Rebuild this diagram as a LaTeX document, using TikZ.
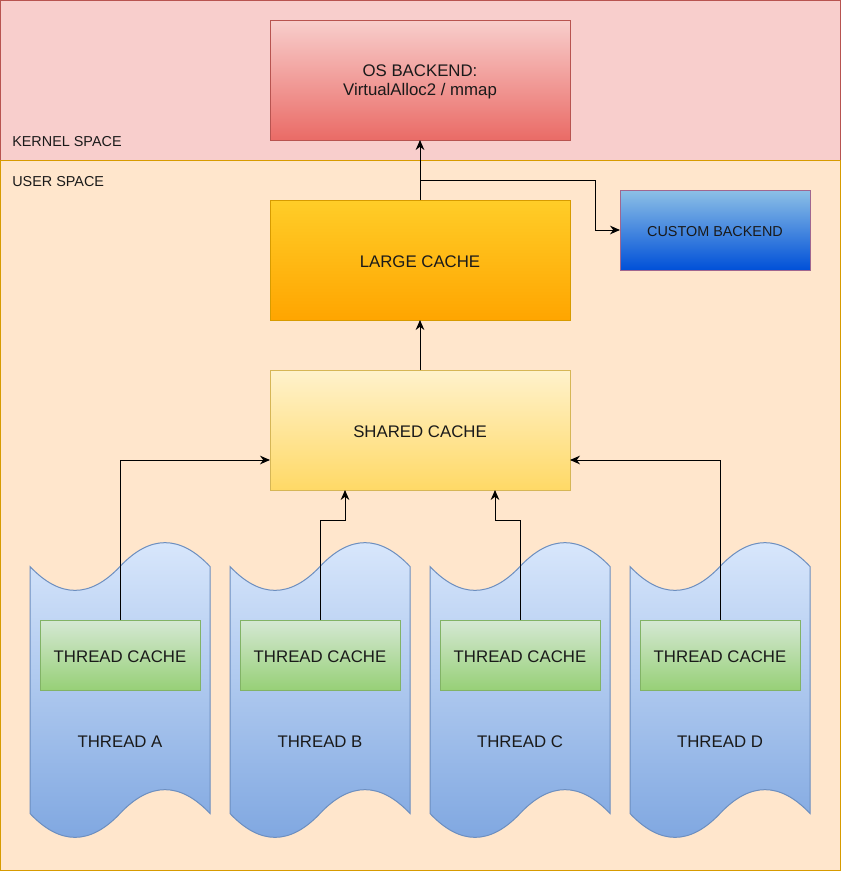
\documentclass[tikz,border=0pt]{standalone}
\usepackage{fontspec}
\setmainfont{Liberation Sans}
\usetikzlibrary{arrows.meta}
\definecolor{kfill}{HTML}{F8CECC}
\definecolor{kline}{HTML}{B85450}
\definecolor{ufill}{HTML}{FFE6CC}
\definecolor{uline}{HTML}{D79B00}
\definecolor{osbot}{HTML}{EA6B66}
\definecolor{lgtop}{HTML}{FFCD28}
\definecolor{lgbot}{HTML}{FFA500}
\definecolor{shtop}{HTML}{FFF2CC}
\definecolor{shbot}{HTML}{FFD966}
\definecolor{shline}{HTML}{D6B656}
\definecolor{cutop}{HTML}{8DC0E6}
\definecolor{cubot}{HTML}{0050D8}
\definecolor{culine}{HTML}{A0668F}
\definecolor{tptop}{HTML}{DAE8FC}
\definecolor{tpbot}{HTML}{7EA6E0}
\definecolor{tpline}{HTML}{6C8EBF}
\definecolor{tctop}{HTML}{D5E8D4}
\definecolor{tcbot}{HTML}{97D077}
\definecolor{tcline}{HTML}{82B366}
\definecolor{txt}{HTML}{1A1A1A}
\tikzset{
  bigbox/.style={inner sep=0pt, outer sep=0pt, minimum width=225pt, minimum height=90pt, text=txt, font=\fontsize{12.6}{14.5}\selectfont, align=center},
  tcbox/.style={inner sep=0pt, outer sep=0pt, minimum width=120pt, minimum height=52.5pt, draw=tcline, top color=tctop, bottom color=tcbot, text=txt, font=\fontsize{12.6}{14.5}\selectfont},
  lbl/.style={inner sep=0pt, text=txt, font=\fontsize{12.6}{14.5}\selectfont},
  arealbl/.style={inner sep=0pt, anchor=west, text=txt, font=\fontsize{10.8}{12}\selectfont},
  arr/.style={draw=black, line width=0.75pt, -{Stealth[length=7.5pt,width=6.5pt]}},
  tape/.style={draw=tpline, line width=0.75pt, top color=tptop, bottom color=tpbot},
}
\newcommand{\tapeat}[1]{%
  \begin{scope}[shift={(#1,0)}]
    \shade[tape] (0,566.5) .. controls (30,598.3) and (60,598.3) .. (90,566.5)
      .. controls (120,534.7) and (150,534.7) .. (180,566.5) -- (180,813.5)
      .. controls (150,781.7) and (120,781.7) .. (90,813.5)
      .. controls (60,845.3) and (30,845.3) .. (0,813.5) -- cycle;
  \end{scope}}
\begin{document}
\begin{tikzpicture}[x=0.75pt,y=-0.75pt]
\useasboundingbox (0,0) rectangle (841,871);
% areas
\fill[ufill] (0.5,160) rectangle (840,870);
\draw[uline, line width=0.75pt] (0.5,160) rectangle (840,870);
\fill[kfill] (0.5,0.5) rectangle (840,160);
\draw[kline, line width=0.75pt] (0.5,160) -- (0.5,0.5) -- (840,0.5) -- (840,160);
\draw[uline, line width=0.75pt] (0.5,160) -- (840,160);
\node[arealbl] (klbl) at (12,141.5) {KERNEL SPACE};
\node[arealbl] (ulbl) at (12,181.5) {USER SPACE};
% boxes
\node[bigbox, draw=kline, top color=kfill, bottom color=osbot] (os) at (420,80) {};
\node[lbl, align=center] (ostxt) at (420,82) {OS BACKEND:\\VirtualAlloc2 / mmap};
\node[bigbox, draw=uline, top color=lgtop, bottom color=lgbot] (large) at (420,260) {};
\node[lbl] (lgtxt) at (420,261.5) {LARGE CACHE};
\node[bigbox, draw=shline, top color=shtop, bottom color=shbot] (shared) at (420,430) {};
\node[lbl] (shtxt) at (420,431.5) {SHARED CACHE};
\node[inner sep=0pt, outer sep=0pt, minimum width=142.5pt, minimum height=60pt, draw=culine, top color=cutop, bottom color=cubot] (custom) at (715,230) {};
\node[inner sep=0pt, text=txt, font=\fontsize{10.8}{12}\selectfont] (cutxt) at (715,232) {CUSTOM BACKEND};
% threads
\tapeat{30}
\tapeat{230}
\tapeat{430}
\tapeat{630}
\node[tcbox] (tcA) at (120,655) {};
\node[tcbox] (tcB) at (320,655) {};
\node[tcbox] (tcC) at (520,655) {};
\node[tcbox] (tcD) at (720,655) {};
\node[lbl] (tctA) at (120,656.5) {THREAD CACHE};
\node[lbl] (tctB) at (320,656.5) {THREAD CACHE};
\node[lbl] (tctC) at (520,656.5) {THREAD CACHE};
\node[lbl] (tctD) at (720,656.5) {THREAD CACHE};
\node[lbl] (thA) at (120,741.5) {THREAD A};
\node[lbl] (thB) at (320,741.5) {THREAD B};
\node[lbl] (thC) at (520,741.5) {THREAD C};
\node[lbl] (thD) at (720,741.5) {THREAD D};
% connectors
\draw[arr] (tcA.north) |- ([yshift=-22.5pt]shared.west);
\draw[arr] (tcD.north) |- ([yshift=-22.5pt]shared.east);
\draw[arr] (tcB.north) -- ++(0,-100) -| ([xshift=-56.25pt]shared.south);
\draw[arr] (tcC.north) -- ++(0,-100) -| ([xshift=56.25pt]shared.south);
\draw[arr] (shared.north) -- (large.south);
\draw[arr] (large.north) -- (os.south);
\coordinate (br) at (420,180);
\coordinate (bend) at (595,180);
\draw[arr] (br) -- (bend) |- (custom.west);
\end{tikzpicture}
\end{document}
